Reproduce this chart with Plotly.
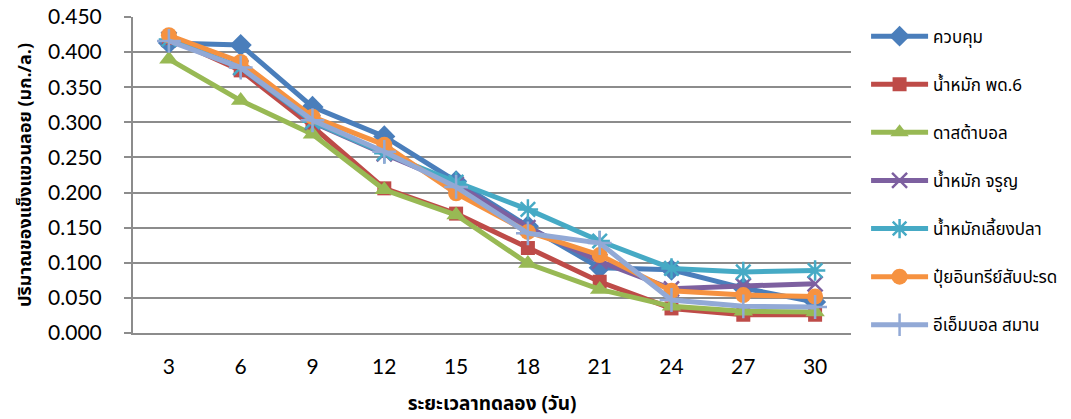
import plotly.graph_objects as go

# Days of the trial
days = ["3", "6", "9", "12", "15", "18", "21", "24", "27", "30"]

# Suspended solids (mg/L) for each treatment
control = [0.413, 0.410, 0.322, 0.280, 0.216, 0.152, 0.093, 0.090, 0.064, 0.044]
pd6 = [0.420, 0.374, 0.294, 0.206, 0.170, 0.121, 0.073, 0.035, 0.026, 0.026]
dasta_ball = [0.390, 0.331, 0.283, 0.204, 0.168, 0.099, 0.062, 0.038, 0.031, 0.030]
jaroon = [0.418, 0.378, 0.300, 0.255, 0.212, 0.150, 0.102, 0.063, 0.067, 0.070]
fish_ferment = [0.418, 0.378, 0.301, 0.256, 0.215, 0.176, 0.131, 0.092, 0.087, 0.089]
pineapple_compost = [0.424, 0.386, 0.308, 0.268, 0.199, 0.144, 0.111, 0.060, 0.054, 0.052]
em_ball = [0.416, 0.378, 0.303, 0.258, 0.208, 0.142, 0.128, 0.047, 0.038, 0.037]

series = [
    ("ควบคุม", control, "#4A7EBB", "diamond", 17),
    ("น้ำหมัก พด.6", pd6, "#BE4B48", "square", 14),
    ("ดาสต้าบอล", dasta_ball, "#98B954", "triangle-up", 17),
    ("น้ำหมัก จรูญ", jaroon, "#7D60A0", "x-thin-open", 15),
    ("น้ำหมักเลี้ยงปลา", fish_ferment, "#46AAC5", "asterisk-open", 17),
    ("ปุ๋ยอินทรีย์สับปะรด", pineapple_compost, "#F69240", "circle", 16),
    ("อีเอ็มบอล สมาน", em_ball, "#92A9D6", "cross-thin-open", 17),
]

fig = go.Figure()
for i, (name, vals, color, sym, size) in enumerate(series):
    open_sym = sym.endswith("-open")
    fig.add_trace(go.Scatter(
        x=days, y=vals, name=name, mode="lines+markers",
        legendgroup=f"g{i}",
        line=dict(color=color, width=5),
        marker=dict(symbol=sym, size=size, color=color,
                    line=dict(color=color, width=2.5 if open_sym else 0)),
    ))

grid = "#8C8C8C"
tick_font = dict(family="Lato, Liberation Sans, sans-serif", size=21, color="#000000")
thai_font = "Noto Sans Thai, Loma, Garuda, Tahoma, DejaVu Sans, sans-serif"

fig.update_layout(
    width=1071, height=419,
    margin=dict(l=133, r=220, t=17, b=86, autoexpand=False),
    paper_bgcolor="white", plot_bgcolor="white",
    showlegend=True,
    legend=dict(
        x=1.021, y=0.995, xanchor="left", yanchor="top",
        font=dict(family=thai_font, size=17, color="#000000"),
        tracegroupgap=23, itemwidth=57, maxheight=410,
        bgcolor="rgba(0,0,0,0)",
    ),
    xaxis=dict(
        type="category", range=[-0.5, 9.5], automargin=False,
        showline=True, linecolor=grid, linewidth=2,
        showgrid=False, ticks="", tickfont=tick_font,
        ticklabelstandoff=14,
        title=dict(text="<b>ระยะเวลาทดลอง (วัน)</b>",
                   font=dict(family=thai_font, size=19, color="#000000"),
                   standoff=28),
    ),
    yaxis=dict(
        range=[0, 0.45], dtick=0.05, tickformat=".3f", automargin=False,
        showline=True, linecolor=grid, linewidth=2,
        showgrid=True, gridcolor=grid, gridwidth=2,
        ticks="outside", ticklen=7, tickcolor=grid, tickwidth=2,
        tickfont=tick_font, zeroline=False, ticklabelstandoff=18,
        title=dict(text="<b>ปริมาณของแข็งแขวนลอย (มก./ล.)</b>",
                   font=dict(family=thai_font, size=18, color="#000000"),
                   standoff=12),
    ),
)

fig.write_html("out.html")
